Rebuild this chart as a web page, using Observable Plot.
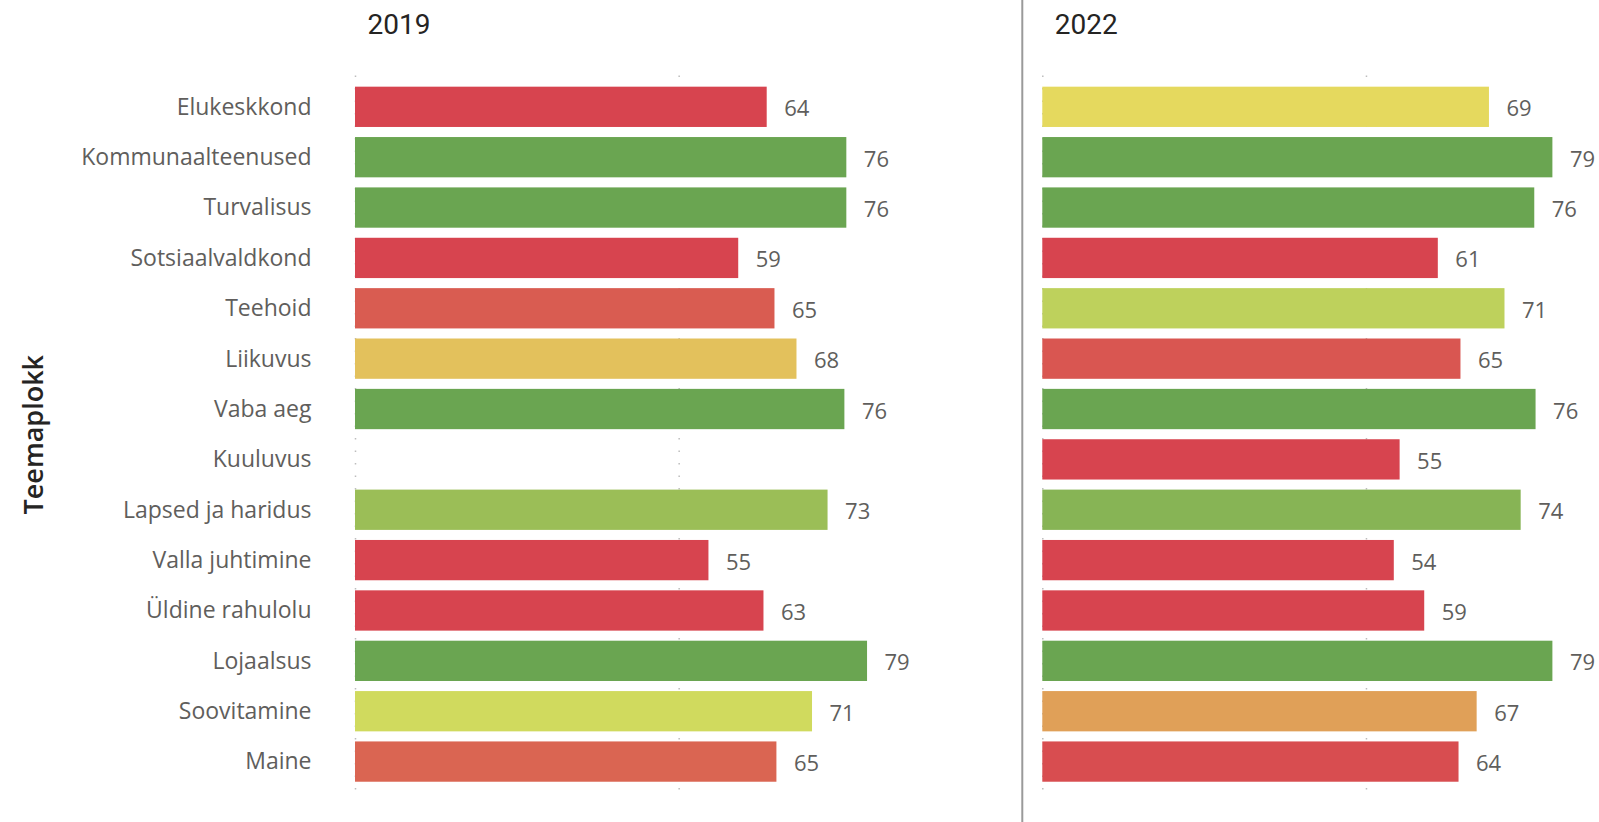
<!DOCTYPE html>
<html>
<head>
<meta charset="utf-8">
<script src="https://cdn.jsdelivr.net/npm/d3@7"></script>
<script src="https://cdn.jsdelivr.net/npm/@observablehq/plot@0.6"></script>
<style>
  html, body { margin: 0; padding: 0; background: #fff; overflow: hidden; }
</style>
</head>
<body>
<div id="chart"></div>
<script>
// ---- data ----
const categories = [
  "Elukeskkond", "Kommunaalteenused", "Turvalisus", "Sotsiaalvaldkond", "Teehoid",
  "Liikuvus", "Vaba aeg", "Kuuluvus", "Lapsed ja haridus", "Valla juhtimine",
  "Üldine rahulolu", "Lojaalsus", "Soovitamine", "Maine"
];
const years = ["2019", "2022"];
const values2019 = [63.6, 75.9, 75.9, 59.2, 64.8, 68.2, 75.6, null, 73.0, 54.6, 63.1, 79.1, 70.6, 65.1];
const values2022 = [69.0, 78.8, 76.0, 61.1, 71.4, 64.6, 76.2, 55.2, 73.9, 54.3, 59.0, 78.8, 67.1, 64.3];
const xTicks = [0, 50];
const axisTitle = "Teemaplokk";

// colour gradient (conditional formatting) stops
const colorStops = [64, 69, 70.5, 75.2];
const colorRange = ["#D7444F", "#E5D95E", "#D2DB5E", "#6AA551"];

const rows = [];
[values2019, values2022].forEach((vals, j) => {
  categories.forEach((c, i) => {
    if (vals[i] != null) rows.push({year: years[j], cat: c, v: vals[i]});
  });
});

const labelColor = "#605E5C";
const darkColor = "#252423";

const chart = Plot.plot({
  width: 1599,
  height: 822,
  marginTop: 76.6,
  marginBottom: 30.2,
  marginLeft: 355,
  marginRight: 0,
  style: {fontFamily: "'Open Sans', sans-serif", background: "#fff", overflow: "visible"},
  fx: {domain: years, paddingInner: 0.19, paddingOuter: 0, round: false, axis: null},
  x: {domain: [0, 86], axis: null},
  y: {domain: categories, padding: 0.2, round: false},
  color: {type: "linear", domain: colorStops, range: colorRange, interpolate: "rgb", clamp: true},
  marks: [
    Plot.gridX(xTicks, {stroke: "#BDBDBD", strokeOpacity: 1, strokeWidth: 1.5,
      strokeDasharray: "1.5,11", insetTop: -1, insetBottom: -8}),
    Plot.barX(rows, {x: "v", y: "cat", fx: "year", fill: "v"}),
    Plot.text(rows, {x: "v", y: "cat", fx: "year", text: d => Math.round(d.v),
      textAnchor: "start", dx: 17, dy: 2, fontSize: 22, fill: labelColor}),
    Plot.axisY({tickSize: 0, tickPadding: 44, fontSize: 23, color: labelColor, label: null}),
    Plot.text([{year: "2019", t: axisTitle}], {fx: "year", text: "t", frameAnchor: "left",
      textAnchor: "middle", lineAnchor: "middle",
      dx: -321, rotate: -90, fontSize: 27, fontWeight: 600, fill: darkColor}),
    Plot.text(years, {fx: d => d, text: d => d, frameAnchor: "top-left", textAnchor: "start",
      dx: 12, dy: -62.5, fontSize: 28, fontWeight: 400, fontFamily: "Roboto", fill: darkColor}),
    Plot.ruleX([{year: "2022", v: 0}], {x: "v", fx: "year", dx: -20.5,
      insetTop: -80, insetBottom: -40, stroke: "#9A9A9A", strokeWidth: 2})
  ]
});
document.getElementById("chart").appendChild(chart);
</script>
</body>
</html>
